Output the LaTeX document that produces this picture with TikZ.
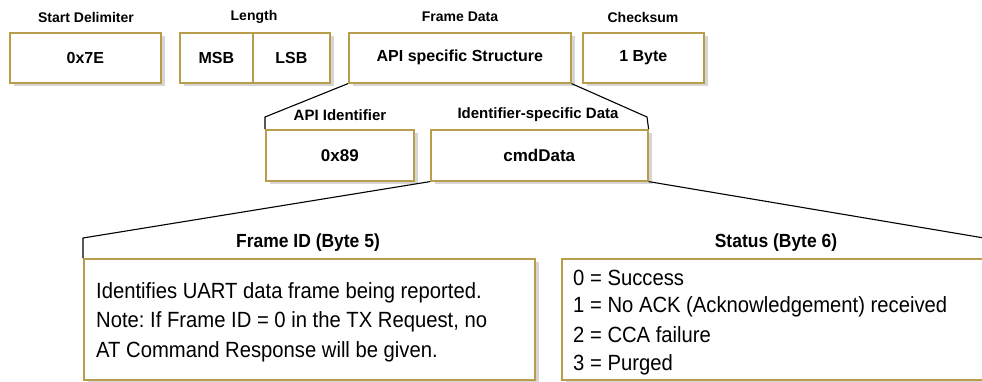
\documentclass[tikz,border=0pt]{standalone}
\usepackage{fontspec}
\setmainfont{Liberation Sans}
\newfontfamily\condfont[FakeStretch=0.92]{Liberation Sans}
\usetikzlibrary{shadows}
\frenchspacing

\definecolor{boxgold}{RGB}{184,158,74}
\definecolor{shadowgray}{RGB}{214,214,214}

\tikzset{
  field/.style={draw=boxgold, line width=1.6pt, fill=white, inner sep=0pt,
    anchor=north west,
    drop shadow={shadow xshift=4pt, shadow yshift=-3pt, fill=shadowgray, opacity=1}},
  topfield/.style={field, minimum height=50pt, font=\bfseries\fontsize{16}{19}\selectfont},
  midfield/.style={field, minimum height=51pt, font=\bfseries\fontsize{17}{20}\selectfont},
  lowfield/.style={field, minimum height=121pt},
  fieldlabel/.style={inner sep=0pt, font=\bfseries\fontsize{14}{16}\selectfont},
  midlabel/.style={inner sep=0pt, font=\bfseries\fontsize{15}{17}\selectfont},
  lowlabel/.style={inner sep=0pt, font=\condfont\bfseries\fontsize{19}{22}\selectfont},
  bodyline/.style={inner sep=0pt, anchor=base west, font=\condfont\fontsize{22}{26}\selectfont},
  connector/.style={draw=black, line width=1.1pt, line join=miter}
}

\begin{document}
\begin{tikzpicture}[x=1pt, y=-1pt]
  \useasboundingbox (0,0) rectangle (982,381);
  \clip (0,0) rectangle (982,381);

  % ---- frame fields ----
  \node[topfield, minimum width=151pt] (sd)  at (9,32)   {0x7E};
  \node[topfield, minimum width=73pt]  (msb) at (179,32) {MSB};
  \node[topfield, minimum width=77pt]  (lsb) at (252,32) {LSB};
  \node[topfield, minimum width=222pt] (fd)  at (348,32) {API specific Structure};
  \node[topfield, minimum width=121pt] (cs)  at (582,32) {1 Byte};

  \node[fieldlabel] (sdlab)  at (86,17)    {Start Delimiter};
  \node[fieldlabel] (lenlab) at (254,17)   {Length};
  \node[fieldlabel] (fdlab)  at (460,17)   {Frame Data};
  \node[fieldlabel] (cslab)  at (643,17)   {Checksum};

  % ---- frame data breakdown ----
  \node[midfield, minimum width=148pt] (api) at (265,129) {0x89};
  \node[midfield, minimum width=217pt] (isd) at (430,129) {cmdData};

  \node[midlabel] (apilab) at (340,115) {API Identifier};
  \node[midlabel] (isdlab) at (538,115) {Identifier-specific Data};

  % ---- command data breakdown ----
  \node[lowfield, minimum width=451pt] (fid) at (83,258)  {};
  \node[lowfield, minimum width=429pt] (st)  at (561,258) {};

  \node[lowlabel] (fidlab) at (308,243) {Frame ID (Byte 5)};
  \node[lowlabel] (stlab)  at (776,243) {Status (Byte 6)};

  \node[bodyline] (fid1) at (96,298) {Identifies UART data frame being reported.};
  \node[bodyline] (fid2) at (96,327) {Note: If Frame ID = 0 in the TX Request, no};
  \node[bodyline] (fid3) at (96,357) {AT Command Response will be given.};

  \node[bodyline] (st0) at (573,285) {0 = Success};
  \node[bodyline] (st1) at (573,312) {1 = No ACK (Acknowledgement) received};
  \node[bodyline] (st2) at (573,342) {2 = CCA failure};
  \node[bodyline] (st3) at (573,370) {3 = Purged};

  % ---- expansion brackets ----
  \coordinate (b1) at (265,117);
  \coordinate (b2) at (647,117);
  \coordinate (b3) at (83,238);
  \coordinate (b4) at (990,239);

  \draw[connector] (fd.south west) -- (b1) -- (api.north west);
  \draw[connector] (fd.south east) -- (b2) -- (isd.north east);
  \draw[connector] (isd.south west) -- (b3) -- (fid.north west);
  \draw[connector] (isd.south east) -- (b4) -- (st.north east);
\end{tikzpicture}
\end{document}
